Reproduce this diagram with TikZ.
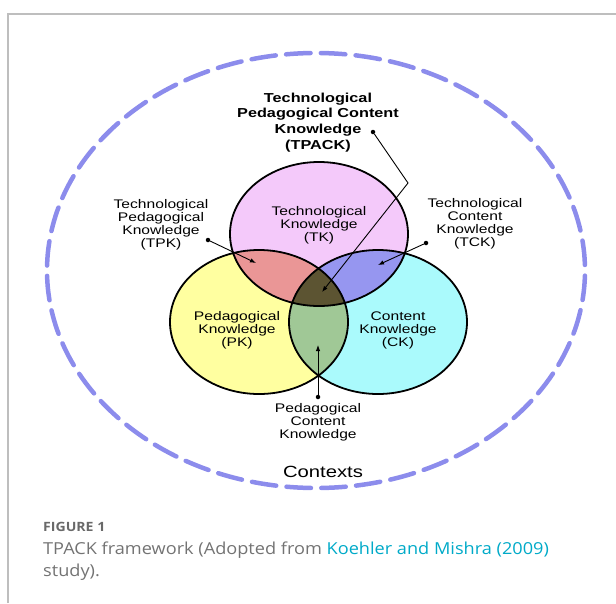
\documentclass[tikz,border=0pt]{standalone}
\usepackage{fontspec}
\usepackage{xcolor}
\definecolor{tkpink}{RGB}{244,201,250}
\definecolor{pkyellow}{RGB}{255,255,160}
\definecolor{ckcyan}{RGB}{170,250,252}
\definecolor{tpkred}{RGB}{234,150,150}
\definecolor{tckblue}{RGB}{150,150,240}
\definecolor{pckgreen}{RGB}{160,200,150}
\definecolor{tpackolive}{RGB}{92,84,50}
\definecolor{contextblue}{RGB}{140,140,236}
\definecolor{framegray}{RGB}{190,190,190}
\definecolor{captiongray}{RGB}{115,115,115}
\definecolor{headgray}{RGB}{105,105,105}
\definecolor{linkteal}{RGB}{0,170,200}
\usepackage{tikz}
\usetikzlibrary{arrows.meta}
\newfontfamily\vennsans[FakeStretch=1.25]{Liberation Sans}
\newfontfamily\captionsans[FakeStretch=1.1]{Open Sans}
\newcommand{\tkshape}{(319,234) ellipse [x radius=89, y radius=72]}
\newcommand{\pkshape}{(259,322) ellipse [x radius=89, y radius=72]}
\newcommand{\ckshape}{(378,322) ellipse [x radius=89, y radius=72]}
\tikzset{
    frame/.style={draw=framegray, line width=1.2pt},
    contexts/.style={draw=contextblue, line width=4.5pt, line cap=round,
        dash pattern=on 24.5pt off 10.33pt, dash phase=29.7pt},
    ring/.style={draw=black, line width=1.8pt},
    knowledge/.style={anchor=base, align=center, inner sep=0pt,
        font=\vennsans\fontsize{12.5}{13}\selectfont},
    tpacklabel/.style={knowledge, font=\vennsans\bfseries\fontsize{13}{15.6}\selectfont},
    dot/.style={circle, fill=black, inner sep=0pt, minimum size=4.5pt},
    pointer/.style={draw=black, line width=0.9pt, -{Latex[length=6pt, width=4.5pt]}},
    caption head/.style={anchor=base west, inner sep=0pt, text=headgray,
        font=\captionsans\bfseries\fontsize{12.8}{15}\selectfont},
    caption text/.style={anchor=base west, align=left, inner sep=0pt, text=captiongray,
        font=\captionsans\fontsize{16.5}{22}\selectfont}
}
\begin{document}
\begin{tikzpicture}[x=1pt, y=-1pt]
    \useasboundingbox (0,0) rectangle (616,603);
    \draw[frame] (8,603) -- (8,14) -- (616,14);
    \draw[contexts] (316,270.5) ellipse [x radius=269, y radius=217.5];
    % the three circles and their overlaps
    \fill[tkpink] \tkshape;
    \fill[pkyellow] \pkshape;
    \fill[ckcyan] \ckshape;
    \begin{scope}
        \clip \tkshape;
        \fill[tpkred] \pkshape;
        \fill[tckblue] \ckshape;
    \end{scope}
    \begin{scope}
        \clip \pkshape;
        \fill[pckgreen] \ckshape;
        \clip \ckshape;
        \fill[tpackolive] \tkshape;
    \end{scope}
    \draw[ring] \tkshape \pkshape \ckshape;

    % labels sit on the baseline of their last line
    \node[tpacklabel] (tpack) at (318,149) {Technological\\Pedagogical Content\\Knowledge\\(TPACK)};
    \node[knowledge] (tk) at (319,241) {Technological\\Knowledge\\(TK)};
    \node[knowledge] (pk) at (237,346) {Pedagogical\\Knowledge\\(PK)};
    \node[knowledge] (ck) at (398,346) {Content\\Knowledge\\(CK)};
    \node[knowledge] (tpk) at (161,247) {Technological\\Pedagogical\\Knowledge\\(TPK)};
    \node[knowledge] (tck) at (475,246) {Technological\\Content\\Knowledge\\(TCK)};
    \node[knowledge] (pck) at (318,438) {Pedagogical\\Content\\Knowledge};
    \node[knowledge, font=\vennsans\fontsize{16.2}{19}\selectfont] (ctx) at (323,477) {Contexts};

    % pointers into the overlaps
    \node[dot] (tpack-dot) at (373,132) {};
    \node[dot] (tpk-dot) at (208,240) {};
    \node[dot] (tck-dot) at (426,243) {};
    \node[dot] (pck-dot) at (318,397) {};
    \coordinate (tpack-bend) at (408,183);
    \coordinate (tpack-tip) at (322,292);
    \coordinate (tpk-tip) at (256,263);
    \coordinate (tck-tip) at (378,265);
    \coordinate (pck-tip) at (318,345);
    \draw[pointer] (tpack-dot) -- (tpack-bend) -- (tpack-tip);
    \draw[pointer] (tpk-dot) -- (tpk-tip);
    \draw[pointer] (tck-dot) -- (tck-tip);
    \draw[pointer] (pck-dot) -- (pck-tip);

    \node[caption head] (fig-num) at (43,531) {FIGURE 1};
    \node[caption text] (fig-caption) at (43,576)
        {TPACK framework (Adopted from \textcolor{linkteal}{Koehler and Mishra (2009)}\\study).};
\end{tikzpicture}
\end{document}
